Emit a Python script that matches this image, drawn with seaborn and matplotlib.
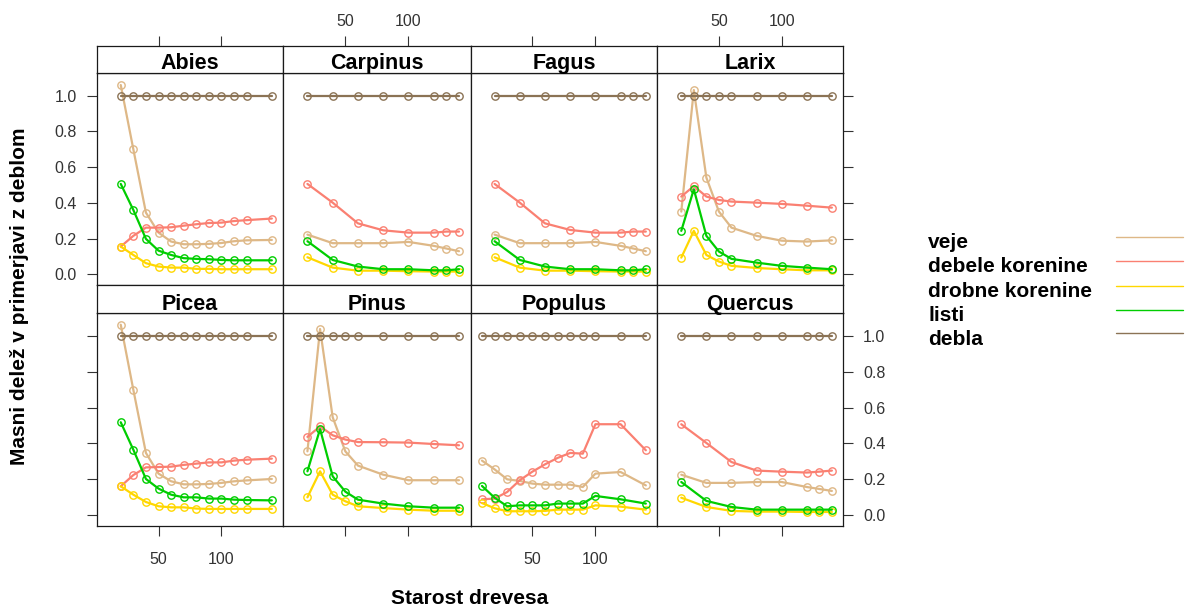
import matplotlib
matplotlib.use("Agg")
import matplotlib.pyplot as plt
from matplotlib.lines import Line2D
import pandas as pd
import seaborn as sns

# ---- data: share of each tree part relative to stem mass, by tree age ----
komponente = ["veje", "debele korenine", "drobne korenine", "listi", "debla"]
barve = ["#DEB887", "#FA8072", "#FFD700", "#00CD00", "#8B7355"]
vrste = ["Abies", "Carpinus", "Fagus", "Larix", "Picea", "Pinus", "Populus", "Quercus"]

abies = dict(
    starost=[20, 30, 40, 50, 60, 70, 80, 90, 100, 110, 120, 140],
    veje=[1.06, 0.70, 0.345, 0.233, 0.183, 0.168, 0.168, 0.17, 0.175, 0.185, 0.19, 0.192],
    debele=[0.155, 0.215, 0.261, 0.261, 0.263, 0.272, 0.28, 0.287, 0.289, 0.298, 0.303, 0.312],
    drobne=[0.155, 0.108, 0.062, 0.043, 0.037, 0.037, 0.03, 0.03, 0.028, 0.028, 0.028, 0.028],
    listi=[0.506, 0.36, 0.198, 0.132, 0.108, 0.09, 0.086, 0.084, 0.08, 0.078, 0.078, 0.078],
    debla=[1.0, 1.0, 1.0, 1.0, 1.0, 1.0, 1.0, 1.0, 1.0, 1.0, 1.0, 1.0],
)
carpinus = dict(
    starost=[20, 40, 60, 80, 100, 120, 130, 140],
    veje=[0.222, 0.174, 0.174, 0.174, 0.181, 0.159, 0.144, 0.129],
    debele=[0.506, 0.401, 0.285, 0.246, 0.233, 0.233, 0.239, 0.239],
    drobne=[0.095, 0.037, 0.02, 0.02, 0.017, 0.015, 0.015, 0.015],
    listi=[0.185, 0.08, 0.043, 0.028, 0.028, 0.022, 0.022, 0.028],
    debla=[1.0, 1.0, 1.0, 1.0, 1.0, 1.0, 1.0, 1.0],
)
fagus = dict(
    starost=[20, 40, 60, 80, 100, 120, 130, 140],
    veje=[0.222, 0.174, 0.174, 0.174, 0.181, 0.159, 0.144, 0.129],
    debele=[0.506, 0.401, 0.285, 0.248, 0.233, 0.233, 0.239, 0.239],
    drobne=[0.095, 0.037, 0.02, 0.02, 0.017, 0.015, 0.015, 0.015],
    listi=[0.185, 0.08, 0.043, 0.028, 0.028, 0.022, 0.022, 0.028],
    debla=[1.0, 1.0, 1.0, 1.0, 1.0, 1.0, 1.0, 1.0],
)
larix = dict(
    starost=[20, 30, 40, 50, 60, 80, 100, 120, 140],
    veje=[0.351, 1.032, 0.541, 0.351, 0.261, 0.215, 0.188, 0.183, 0.19],
    debele=[0.435, 0.494, 0.435, 0.416, 0.407, 0.401, 0.394, 0.384, 0.373],
    drobne=[0.093, 0.243, 0.108, 0.071, 0.047, 0.035, 0.028, 0.022, 0.022],
    listi=[0.243, 0.476, 0.215, 0.127, 0.086, 0.065, 0.047, 0.037, 0.028],
    debla=[1.0, 1.0, 1.0, 1.0, 1.0, 1.0, 1.0, 1.0, 1.0],
)
picea = dict(
    starost=[20, 30, 40, 50, 60, 70, 80, 90, 100, 110, 120, 140],
    veje=[1.065, 0.70, 0.346, 0.23, 0.187, 0.17, 0.17, 0.172, 0.178, 0.187, 0.192, 0.2],
    debele=[0.159, 0.222, 0.265, 0.267, 0.269, 0.279, 0.286, 0.293, 0.293, 0.303, 0.308, 0.314],
    drobne=[0.159, 0.112, 0.071, 0.047, 0.041, 0.041, 0.034, 0.032, 0.032, 0.032, 0.032, 0.032],
    listi=[0.518, 0.364, 0.2, 0.146, 0.112, 0.097, 0.097, 0.09, 0.09, 0.084, 0.082, 0.08],
    debla=[1.0, 1.0, 1.0, 1.0, 1.0, 1.0, 1.0, 1.0, 1.0, 1.0, 1.0, 1.0],
)
pinus = dict(
    starost=[20, 30, 40, 50, 60, 80, 100, 120, 140],
    veje=[0.355, 1.041, 0.546, 0.355, 0.275, 0.224, 0.193, 0.193, 0.193],
    debele=[0.436, 0.495, 0.445, 0.421, 0.407, 0.406, 0.404, 0.396, 0.389],
    drobne=[0.097, 0.243, 0.112, 0.075, 0.047, 0.037, 0.028, 0.022, 0.022],
    listi=[0.243, 0.48, 0.215, 0.129, 0.084, 0.062, 0.047, 0.039, 0.039],
    debla=[1.0, 1.0, 1.0, 1.0, 1.0, 1.0, 1.0, 1.0, 1.0],
)
populus = dict(
    starost=[10, 20, 30, 40, 50, 60, 70, 80, 90, 100, 120, 140],
    veje=[0.303, 0.254, 0.198, 0.189, 0.174, 0.168, 0.168, 0.168, 0.155, 0.23, 0.239, 0.164],
    debele=[0.086, 0.09, 0.127, 0.193, 0.241, 0.282, 0.318, 0.346, 0.342, 0.507, 0.507, 0.361],
    drobne=[0.065, 0.036, 0.019, 0.019, 0.019, 0.021, 0.028, 0.028, 0.028, 0.052, 0.045, 0.028],
    listi=[0.161, 0.095, 0.047, 0.052, 0.052, 0.052, 0.062, 0.062, 0.062, 0.105, 0.086, 0.062],
    debla=[1.0, 1.0, 1.0, 1.0, 1.0, 1.0, 1.0, 1.0, 1.0, 1.0, 1.0, 1.0],
)
quercus = dict(
    starost=[20, 40, 60, 80, 100, 120, 130, 140],
    veje=[0.224, 0.178, 0.178, 0.183, 0.183, 0.155, 0.144, 0.133],
    debele=[0.507, 0.402, 0.295, 0.247, 0.241, 0.236, 0.241, 0.247],
    drobne=[0.095, 0.043, 0.021, 0.017, 0.017, 0.015, 0.015, 0.015],
    listi=[0.183, 0.077, 0.043, 0.028, 0.028, 0.028, 0.028, 0.028],
    debla=[1.0, 1.0, 1.0, 1.0, 1.0, 1.0, 1.0, 1.0],
)

x_ticks = [50, 100]
y_ticks = [0.0, 0.2, 0.4, 0.6, 0.8, 1.0]
y_tick_labels = ["0.0", "0.2", "0.4", "0.6", "0.8", "1.0"]

# ---- long table ----
kljuci = ["veje", "debele", "drobne", "listi", "debla"]
tabele = [abies, carpinus, fagus, larix, picea, pinus, populus, quercus]
vrstice = []
for vrsta, t in zip(vrste, tabele):
    for kljuc, ime in zip(kljuci, komponente):
        for s, v in zip(t["starost"], t[kljuc]):
            vrstice.append((vrsta, ime, s, v))
df = pd.DataFrame(vrstice, columns=["vrsta", "del", "starost", "delez"])

# ---- style ----
sns.set_theme(style="white")
plt.rcParams["font.family"] = ["Liberation Sans", "DejaVu Sans"]

W, H = 1188, 612
fig = plt.figure(figsize=(W / 100, H / 100), dpi=100)
fig.patch.set_facecolor("white")


def box(x0, y0, x1, y1):
    return [x0 / W, 1 - y1 / H, (x1 - x0) / W, (y1 - y0) / H]


col_edges = [96.7, 283.3, 470.5, 657.3, 843.3]
plot_rows = [(72.7, 285.3), (313.3, 525.7)]
strip_rows = [(45.7, 72.7), (285.3, 313.3)]
xlim = (0.9, 149.1)
ylim = (-0.062, 1.129)

tick_col = "#333333"
frame_col = "#1a1a1a"
tick_len = 7.2
tick_w = 0.8
tick_fs = 11.5

for i, vrsta in enumerate(vrste):
    r, c = divmod(i, 4)
    x0, x1 = col_edges[c], col_edges[c + 1]
    py0, py1 = plot_rows[r]
    sy0, sy1 = strip_rows[r]

    ax = fig.add_axes(box(x0, py0, x1, py1))
    sub = df[df["vrsta"] == vrsta]
    sns.lineplot(
        data=sub, x="starost", y="delez", hue="del",
        hue_order=komponente, palette=barve,
        marker="o", markersize=5.3, markerfacecolor="none",
        markeredgewidth=1.0, linewidth=1.6,
        estimator=None, legend=False, ax=ax,
    )
    for ln in ax.lines:
        ln.set_markeredgecolor(ln.get_color())
    ax.set_xlim(*xlim)
    ax.set_ylim(*ylim)
    ax.set_xlabel("")
    ax.set_ylabel("")
    ax.set_facecolor("white")
    for sp in ax.spines.values():
        sp.set_color(frame_col)
        sp.set_linewidth(0.9)

    ax.set_xticks(x_ticks)
    ax.set_xticklabels([str(v) for v in x_ticks])
    ax.set_yticks(y_ticks)
    ax.set_yticklabels(y_tick_labels)
    ax.tick_params(axis="both", direction="out", length=tick_len, width=tick_w,
                   color=tick_col, labelcolor=tick_col, labelsize=tick_fs)
    # lattice-style alternating axes
    ax.tick_params(axis="x", top=False, labeltop=False,
                   bottom=(r == 1), labelbottom=(r == 1 and c in (0, 2)), pad=12)
    ax.tick_params(axis="y", left=(c == 0), labelleft=(c == 0 and r == 0),
                   right=(c == 3), labelright=(c == 3 and r == 1), pad=7)

    # strip with species name
    sax = fig.add_axes(box(x0, sy0, x1, sy1))
    sax.set_facecolor("white")
    sax.set_xlim(*xlim)
    sax.set_ylim(0, 1)
    for sp in sax.spines.values():
        sp.set_color(frame_col)
        sp.set_linewidth(0.9)
    sax.set_yticks([])
    if r == 0:
        sax.set_xticks(x_ticks)
        sax.set_xticklabels([str(v) for v in x_ticks])
        sax.tick_params(axis="x", direction="out", length=tick_len, width=tick_w,
                        color=tick_col, labelcolor=tick_col, labelsize=tick_fs,
                        top=True, labeltop=(c in (1, 3)),
                        bottom=False, labelbottom=False, pad=5)
    else:
        sax.set_xticks([])
    sax.text(0.5, 3.6 / (sy1 - sy0), vrsta, transform=sax.transAxes,
             ha="center", va="baseline", fontsize=15.5, fontweight="bold",
             color="black")

# axis titles
fig.text(20 / W, 1 - 296 / H, "Masni delež v primerjavi z deblom", rotation=90,
         ha="center", va="center", fontsize=15, fontweight="bold", color="black")
fig.text(470 / W, 1 - 598 / H, "Starost drevesa", ha="center", va="center",
         fontsize=15, fontweight="bold", color="black")

# key on the right
baselines = [248, 272.5, 297, 321, 345]
for ime, barva, yb in zip(komponente, barve, baselines):
    fig.text(928 / W, 1 - yb / H, ime, ha="left", va="baseline",
             fontsize=15, fontweight="bold", color="black")
    yl = 1 - (yb - 11.5) / H
    fig.add_artist(Line2D([1116 / W, 1183 / W], [yl, yl], color=barva,
                          linewidth=1.0, transform=fig.transFigure))

fig.savefig("out.png", dpi=100, facecolor="white")
